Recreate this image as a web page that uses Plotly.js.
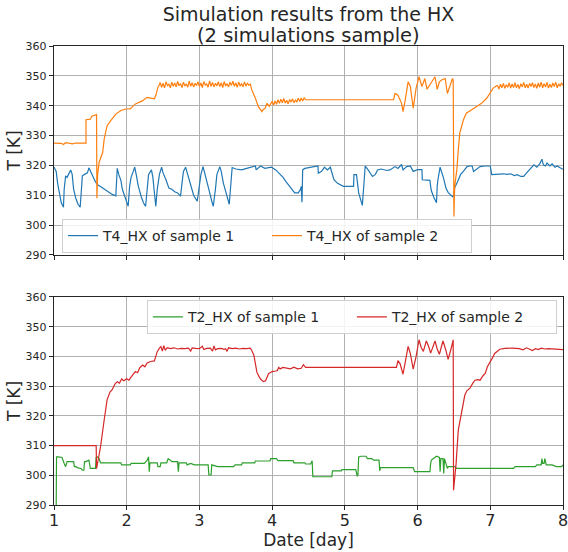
<!DOCTYPE html>
<html>
<head>
<meta charset="utf-8">
<script src="https://cdn.plot.ly/plotly-3.0.1.min.js"></script>
<style>html,body{margin:0;padding:0;background:#fff;}#chart{width:568px;height:552px;}</style>
</head>
<body>
<div id="chart"></div>
<script>
// ---- data ----
const xTicks = [1, 2, 3, 4, 5, 6, 7, 8];
const yTicks = [290, 300, 310, 320, 330, 340, 350, 360];

const t4s1_x = [1.00,1.03,1.05,1.08,1.10,1.13,1.14,1.16,1.18,1.21,1.23,1.25,1.27,1.30,1.33,1.36,1.38,1.39,1.42,1.46,1.48,1.50,1.53,1.55,1.57,1.60,1.65,1.70,1.75,1.80,1.85,1.86,1.87,1.89,1.92,1.94,1.98,2.02,2.04,2.06,2.09,2.11,2.13,2.16,2.20,2.23,2.26,2.28,2.30,2.34,2.36,2.38,2.40,2.42,2.45,2.48,2.50,2.54,2.58,2.62,2.66,2.70,2.74,2.76,2.78,2.81,2.84,2.88,2.92,2.97,3.00,3.02,3.05,3.08,3.11,3.14,3.17,3.19,3.22,3.24,3.28,3.30,3.33,3.36,3.38,3.41,3.42,3.44,3.45,3.50,3.58,3.65,3.72,3.77,3.78,3.84,3.90,3.99,4.05,4.10,4.15,4.19,4.23,4.26,4.31,4.36,4.39,4.40,4.41,4.415,4.42,4.45,4.55,4.63,4.635,4.68,4.72,4.76,4.80,4.83,4.85,4.90,4.94,4.98,5.05,5.12,5.125,5.16,5.19,5.22,5.24,5.26,5.28,5.32,5.38,5.42,5.45,5.50,5.58,5.62,5.69,5.73,5.78,5.80,5.85,5.90,5.94,6.00,6.06,6.065,6.12,6.17,6.18,6.19,6.22,6.26,6.27,6.28,6.31,6.33,6.36,6.39,6.42,6.45,6.48,6.50,6.51,6.55,6.59,6.63,6.68,6.72,6.75,6.77,6.82,6.86,6.93,7.00,7.02,7.10,7.18,7.23,7.28,7.33,7.37,7.42,7.46,7.50,7.55,7.60,7.64,7.68,7.71,7.73,7.76,7.78,7.82,7.85,7.89,7.92,7.96,8.00];
const t4s1_y = [319.5,318,314,310,307.5,306,312,316.5,316,317.5,318.5,317,312,309,307,306,313,316.5,317,317.5,319.2,318,316.5,315.5,314.5,313.5,312.8,312,311.2,310.3,309.8,315,319,317,315,312,309,306.3,313,316,318,319.4,317,313,309.5,307.5,306.3,313,316.9,318.5,316,311,306.3,312,317,319.4,317.5,315.2,312.4,312,311.2,310.8,309.7,314,318,319.4,317,313,310,308,313,316.9,319.6,317,314,311,308,306.3,312,316.9,319.6,318,314,311,309.2,307,310,316,319.3,318.8,318.5,319,319.5,319.8,318.5,319.8,319,319.4,318.5,317.4,316,314.6,313.2,312.4,310.8,310.8,312,313,307.7,313,318.5,319,319.5,319.8,317.4,318,319.4,318.5,319.4,317,315.2,314,313.6,313,313,313,316.9,316.9,310.8,308,306.6,313,319.8,318.5,316.3,317,318.5,318.8,318.3,318.5,319.6,319,320.3,318.5,319.6,319.8,318,318.6,318.6,315.2,315.2,315,313,311.5,309.5,307.5,313,315.2,319.4,318,315.5,312.4,311,310.2,309.5,310,312.5,314.5,316.9,318,319.6,319.8,319.8,318,318.8,319.6,319.8,319.8,316.9,317,317.2,317,317.2,316.6,316.9,316.3,316.3,317.5,318.8,320.2,319.4,320.5,322.1,320.2,319.8,320.8,319.8,320.5,319.4,319.8,319.2,318.7];

const t4s2_x = [1.00,1.10,1.13,1.16,1.20,1.25,1.30,1.38,1.44,1.44,1.50,1.52,1.57,1.585,1.59,1.60,1.62,1.67,1.69,1.73,1.78,1.85,1.92,1.99,2.05,2.12,2.22,2.28,2.38,2.40,2.43,
2.44,2.46,2.48,2.50,2.52,2.54,2.56,2.58,2.60,2.62,2.64,2.66,2.68,2.70,2.72,2.74,2.76,2.78,2.80,2.82,2.84,2.86,2.88,2.90,2.92,2.94,2.96,2.98,3.00,3.02,3.04,3.06,3.08,3.10,3.12,3.14,3.16,3.18,3.20,3.22,3.24,3.26,3.28,3.30,3.32,3.34,3.36,3.38,3.40,3.42,3.44,3.46,3.48,3.50,3.52,3.54,3.56,3.58,3.60,3.62,3.64,3.66,3.68,3.70,
3.72,3.77,3.81,3.86,3.88,3.90,3.93,3.96,3.98,4.00,4.02,4.04,4.06,4.08,4.10,4.12,4.14,4.16,4.18,4.20,4.22,4.24,4.26,4.28,4.30,4.32,4.34,4.36,4.38,4.40,4.42,4.44,4.46,
5.67,5.69,5.73,5.78,5.80,5.83,5.87,5.90,5.94,5.98,6.02,6.06,6.10,6.13,6.19,6.24,6.27,6.30,6.33,6.38,6.41,6.44,6.48,6.49,6.50,6.51,6.54,6.56,6.58,6.63,6.67,6.74,6.81,6.88,6.95,6.99,7.04,7.08,
7.10,7.12,7.14,7.16,7.18,7.20,7.22,7.24,7.26,7.28,7.30,7.32,7.34,7.36,7.38,7.40,7.42,7.44,7.46,7.48,7.50,7.52,7.54,7.56,7.58,7.60,7.62,7.64,7.66,7.68,7.70,7.72,7.74,7.76,7.78,7.80,7.82,7.84,7.86,7.88,7.90,7.92,7.94,7.96,7.98,8.00];
const t4s2_y = [327.5,327.4,327.0,327.6,327.5,327.2,327.5,327.4,327.5,335.3,335.5,336.5,336.9,337.0,309.0,317.0,321.0,324.4,328.8,333.3,335.0,337.2,338.4,338.9,339.0,340.6,341.7,342.8,342.3,343.4,346.2,
346.5,347.8,346.2,347.5,346.0,348.0,346.8,347.2,346.0,347.9,346.5,347.6,346.3,348.1,346.7,347.4,346.1,347.9,346.6,347.3,346.2,348.2,346.5,347.7,346.3,347.5,346.8,348.0,346.4,347.6,346.1,348.1,346.9,347.3,346.2,348.3,346.5,347.8,346.3,347.5,346.7,348.0,346.4,347.7,346.1,348.1,346.6,347.4,346.3,347.9,346.8,348.2,346.5,347.6,346.2,347.9,346.7,347.3,346.4,348.0,346.6,347.5,346.9,347.2,
345.3,342.5,339.7,338.0,338.8,339.0,340.8,339.8,340.5,341.5,340.2,341.6,340.5,342.0,340.8,342.2,341.0,342.4,340.9,341.8,340.6,342.1,341.2,342.3,341.0,341.9,341.3,342.5,341.4,342.6,341.6,342.7,342.0,
342.0,344.1,343.5,340.8,338.0,341.9,348.0,346.5,339.2,345.9,349.7,346.4,349.1,345.5,348.0,349.7,345.5,348.0,348.6,349.1,344.1,346.4,349.1,348.6,302.9,313.0,318.5,325.2,330.8,335.2,337.5,338.6,339.7,340.8,342.5,344.1,345.9,346.6,
346.8,345.6,347.2,346.0,347.5,345.8,347.0,346.2,347.6,345.9,347.3,346.1,347.7,346.0,347.1,345.7,347.4,346.3,347.8,346.0,347.2,345.9,347.5,346.4,347.7,346.1,347.3,345.8,347.6,346.2,347.9,346.0,347.4,346.3,347.8,345.9,347.2,346.1,347.6,346.4,347.9,346.0,347.3,346.5,347.7,346.8];

const t2s1_x = [1.03,1.035,1.06,1.11,1.14,1.16,1.18,1.21,1.27,1.28,1.30,1.33,1.37,1.39,1.41,1.42,1.44,1.48,1.49,1.50,1.57,1.58,1.60,1.62,1.64,1.67,1.92,1.93,2.05,2.06,2.24,2.28,2.30,2.31,2.32,2.42,2.43,2.46,2.47,2.55,2.57,2.60,2.62,2.70,2.71,2.72,2.82,2.83,2.88,2.93,3.12,3.13,3.16,3.17,3.25,3.47,3.49,3.58,3.59,3.76,3.77,3.97,3.98,4.06,4.08,4.29,4.30,4.45,4.46,4.53,4.54,4.55,4.56,4.82,4.83,4.95,4.96,5.15,5.17,5.18,5.19,5.22,5.29,5.31,5.37,5.40,5.47,5.48,5.49,5.94,5.96,6.17,6.18,6.19,6.26,6.30,6.31,6.32,6.35,6.36,6.37,6.41,6.42,6.51,6.54,7.32,7.34,7.62,7.64,7.70,7.71,7.72,7.74,7.75,7.77,7.85,7.91,7.98,8.00];
const t2s1_y = [289,306.2,306.2,306.0,304.0,302.9,304.6,304.6,304.6,302.9,302.9,302.5,302.3,301.7,301.7,304.6,304.6,305.1,302.3,302.3,302.3,306.0,306.2,305.6,304.2,304.2,304.2,303.5,303.5,304.0,304.0,305.0,306.2,301.2,304.2,304.2,302.9,302.9,304.2,304.2,305.6,305.1,304.6,304.6,301.2,304.2,304.2,303.5,304.0,303.5,303.5,300.1,300.1,303.5,302.9,302.9,303.5,303.5,304.2,304.2,304.8,304.8,305.6,305.6,304.9,304.9,304.2,304.2,303.8,303.8,304.9,304.9,299.5,299.5,301.5,301.5,301.9,301.9,299.8,300.0,306.2,306.4,306.4,305.6,305.6,305.1,305.1,301.5,302.6,302.6,301.2,301.2,304.0,305.1,306.4,306.0,301.2,305.6,305.6,300.6,305.6,302.3,302.9,302.9,302.3,302.3,302.9,302.9,303.5,303.5,305.6,304.0,304.0,305.6,303.5,303.5,302.9,302.9,303.5];

const t2s2_x = [1.00,1.58,1.585,1.60,1.61,1.64,1.69,1.73,1.77,1.80,1.84,1.87,1.90,1.93,1.96,2.00,2.03,2.06,2.09,2.12,2.15,2.18,2.22,2.25,2.28,2.33,2.38,2.40,2.42,2.45,2.47,2.49,2.51,2.53,2.56,2.60,2.65,2.70,2.75,2.80,2.85,2.88,2.90,2.95,3.00,3.04,3.06,3.10,3.15,3.18,3.20,3.22,3.25,3.30,3.34,3.36,3.38,3.40,3.45,3.50,3.55,3.60,3.65,3.70,3.72,3.75,3.79,3.82,3.84,3.88,3.91,3.95,3.97,4.00,4.05,4.07,4.09,4.11,4.15,4.20,4.25,4.30,4.35,4.40,4.43,4.46,5.71,5.73,5.76,5.80,5.84,5.87,5.90,5.94,5.98,6.02,6.05,6.08,6.12,6.15,6.18,6.21,6.24,6.27,6.30,6.33,6.35,6.39,6.42,6.46,6.49,6.495,6.53,6.56,6.61,6.65,6.68,6.72,6.76,6.79,6.83,6.86,6.90,6.93,6.96,6.99,7.03,7.06,7.10,7.13,7.20,7.30,7.40,7.45,7.50,7.55,7.58,7.62,7.66,7.70,7.75,7.80,7.90,8.00];
const t2s2_y = [310,310,302.2,304,305.6,309.6,318.6,325.4,328,328.8,330.8,331.5,331,332.4,331.8,332.5,332,333.2,334,334.9,334.5,336.2,337.1,336.5,337.8,338.3,338.5,340,341.6,342.8,343.3,341.8,343.6,342.2,342.9,342.6,342.9,342.5,342.7,342.6,342.8,341.8,342.9,342.7,342.6,343.4,342.3,342.7,342.8,341.8,343.5,342.2,342.6,342.7,342.4,342.6,341.7,342.9,342.6,342.8,342.5,342.7,342.6,342.8,342.0,340.3,334.7,333.2,332.4,331.5,331.8,334.2,334.6,334.9,335.1,335.2,336.3,335.8,336.3,336.0,335.8,336.4,335.8,336.0,337.2,336.3,336.3,338.6,337.5,334,339,343.4,341,335.7,340,345.6,343,341.7,345.2,343.5,341.1,343.5,345.2,342.5,340.7,343.5,345.2,342,339,342.5,345.6,295,304,315.2,322,327,328.5,329.3,331,332,332.2,332,333.5,334.3,336.5,337.7,339.5,341,342,342.4,342.7,342.8,342.6,342.2,342.9,342.4,342.0,342.6,342.3,342.8,342.5,342.6,342.4,342.3];

const names = ['T4_HX of sample 1', 'T4_HX of sample 2', 'T2_HX of sample 1', 'T2_HX of sample 2'];
const colors = ['#1f77b4', '#ff7f0e', '#2ca02c', '#d62728'];
const titleLines = ['Simulation results from the HX', '(2 simulations sample)'];

// ---- chart ----
const lw = 1.2;
const traces = [
  {x: t4s1_x, y: t4s1_y, name: names[0], xaxis: 'x', yaxis: 'y', legend: 'legend', mode: 'lines', line: {color: colors[0], width: lw}},
  {x: t4s2_x, y: t4s2_y, name: names[1], xaxis: 'x', yaxis: 'y', legend: 'legend', mode: 'lines', line: {color: colors[1], width: lw}},
  {x: t2s1_x, y: t2s1_y, name: names[2], xaxis: 'x2', yaxis: 'y2', legend: 'legend2', mode: 'lines', line: {color: colors[2], width: lw}},
  {x: t2s2_x, y: t2s2_y, name: names[3], xaxis: 'x2', yaxis: 'y2', legend: 'legend2', mode: 'lines', line: {color: colors[3], width: lw}}
];

const axisCommon = {
  showgrid: true, gridcolor: '#b0b0b0', gridwidth: 1,
  showline: true, mirror: true, linecolor: '#262626', linewidth: 1.2,
  zeroline: false, ticks: 'outside', ticklen: 4, tickwidth: 1, tickcolor: '#262626',
  automargin: false, ticklabeloverflow: 'allow'
};

const yCommon = Object.assign({}, axisCommon, {
  range: [290, 360], tickvals: yTicks, ticktext: yTicks.map(String),
  tickfont: {size: 11, color: '#262626'},
  title: {text: 'T [K]', font: {size: 17, color: '#262626'}, standoff: 0}
});

const layout = {
  width: 568, height: 552,
  paper_bgcolor: '#ffffff', plot_bgcolor: '#ffffff',
  font: {family: 'DejaVu Sans, sans-serif', color: '#262626'},
  margin: {l: 54, r: 5, t: 46, b: 47},
  title: {
    text: titleLines[0],
    font: {size: 19, color: '#262626'},
    xref: 'paper', x: 0.5, xanchor: 'center',
    yref: 'container', y: 1 - 14 / 552, yanchor: 'middle'
  },
  annotations: [{
    text: titleLines[1], showarrow: false,
    xref: 'paper', x: 0.5, xanchor: 'center',
    yref: 'paper', y: 1 + 11 / 459, yanchor: 'middle',
    font: {size: 19.5, color: '#262626'}
  }],
  showlegend: true,
  xaxis: Object.assign({}, axisCommon, {
    domain: [0, 1], anchor: 'y', range: [1, 8], tickvals: xTicks, showticklabels: false, matches: 'x2'
  }),
  yaxis: Object.assign({}, yCommon, {domain: [0.5447, 1], anchor: 'x'}),
  xaxis2: Object.assign({}, axisCommon, {
    domain: [0, 1], anchor: 'y2', range: [1, 8], tickvals: xTicks, ticktext: xTicks.map(String),
    tickfont: {size: 16, color: '#262626'}, ticklabelstandoff: -3,
    title: {text: 'Date [day]', font: {size: 17, color: '#262626'}, standoff: 0}
  }),
  yaxis2: Object.assign({}, yCommon, {domain: [0, 0.4532], anchor: 'x2'}),
  legend: {
    orientation: 'h', x: 0.0157, xanchor: 'left', y: 0.549, yanchor: 'bottom',
    bgcolor: 'rgba(255,255,255,0.85)', bordercolor: '#d0d0d0', borderwidth: 1,
    font: {size: 14, color: '#262626'}, entrywidth: 159, entrywidthmode: 'pixels'
  },
  legend2: {
    orientation: 'h', x: 0.988, xanchor: 'right', y: 0.446, yanchor: 'top',
    bgcolor: 'rgba(255,255,255,0.85)', bordercolor: '#d0d0d0', borderwidth: 1,
    font: {size: 14, color: '#262626'}, entrywidth: 159, entrywidthmode: 'pixels'
  }
};

Plotly.newPlot('chart', traces, layout, {displayModeBar: false, staticPlot: true});
</script>
</body>
</html>
